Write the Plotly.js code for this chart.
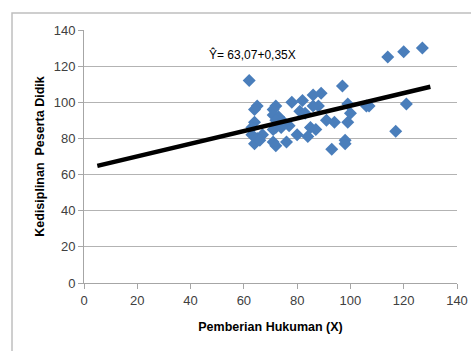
<!DOCTYPE html>
<html>
<head>
<meta charset="utf-8">
<script src="https://cdn.plot.ly/plotly-3.0.1.min.js"></script>
<style>html,body{margin:0;padding:0;background:#fff;}#chart{width:471px;height:351px;}</style>
</head>
<body>
<div id="chart"></div>
<script>
const hukumanX = [62,114,120,127,97,121,117,93,98,98,99,100,99,106,107,94,91,89,86,82,78,88,86,81,85,87,84,80,77,76,75,72,71,73,71,72,71,74,71,72,65,64,64,63,63,64,65,67,66,72,83];
const disiplinY = [112,125,128,130,109,99,84,74,79,77,89,94,99,98,98,89,90,105,104,101,100,98,98,95,86,85,81,82,87,78,89,98,96,92,93,86,85,86,78,76,98,96,89,86,82,77,80,82,79,90,94];
const trendX = [5, 130];
const trendY = [64.8, 108.6];
const xTicks = [0,20,40,60,80,100,120,140];
const yTicks = [0,20,40,60,80,100,120,140];

const tickFont = {family:'Liberation Sans, Arial, sans-serif', size:13, color:'#404040'};
const titleFont = {family:'Liberation Sans, Arial, sans-serif', size:12.5, color:'#000'};

Plotly.newPlot('chart', [
  {x: hukumanX, y: disiplinY, type:'scatter', mode:'markers',
   marker:{symbol:'diamond', size:10, color:'#4a7ebb'}},
  {x: trendX, y: trendY, type:'scatter', mode:'lines',
   line:{color:'#000', width:4.5}}
], {
  width:471, height:351,
  margin:{l:84, r:14, t:30, b:68},
  showlegend:false,
  paper_bgcolor:'#fff', plot_bgcolor:'#fff',
  xaxis:{range:[0,140], tickvals:xTicks, showgrid:false, zeroline:false,
    showline:true, linecolor:'#a6a6a6', linewidth:1, ticks:'outside', ticklen:5, tickcolor:'#a6a6a6',
    tickfont:tickFont, title:{text:'<b>Pemberian Hukuman (X)</b>', font:titleFont, standoff:15}},
  yaxis:{range:[0,140], tickvals:yTicks, showgrid:true, gridcolor:'#b3b3b3', gridwidth:1, zeroline:false,
    showline:true, linecolor:'#a6a6a6', linewidth:1, ticks:'outside', ticklen:5, tickcolor:'#a6a6a6',
    tickfont:tickFont, title:{text:'<b>Kedisiplinan  Peserta Didik</b>', font:titleFont, standoff:6}},
  annotations:[{x:63.4, y:126.5, xref:'x', yref:'y', text:'Ŷ= 63,07+0,35X', showarrow:false,
    font:{family:'Liberation Sans, Arial, sans-serif', size:12, color:'#000'}}],
  shapes:[{type:'rect', xref:'paper', yref:'paper', x0:-0.193, x1:2, y0:-1, y1:1.067,
    line:{color:'#bfbfbf', width:1.5}, fillcolor:'rgba(0,0,0,0)', layer:'below'}]
}, {staticPlot:true});
</script>
</body>
</html>
